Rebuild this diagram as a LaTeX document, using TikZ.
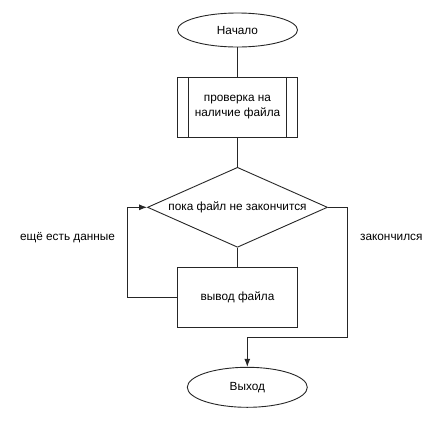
\documentclass[tikz,border=0pt]{standalone}
\usepackage{fontspec}
\setmainfont{Liberation Sans}
\usepackage{tikz}
\usetikzlibrary{positioning,arrows.meta,calc,shapes.geometric}
\tikzset{
  flowline/.style={line width=0.9pt, draw=black!85},
  flowterm/.style={ellipse, flowline, minimum width=120pt, minimum height=34pt,
    inner sep=0pt, font=\fontsize{11.8}{14}\selectfont},
  flowbox/.style={rectangle, flowline, minimum width=120pt, minimum height=60pt,
    align=center, inner sep=2pt, font=\fontsize{11.8}{15}\selectfont},
  flowcond/.style={diamond, flowline, aspect=2.25, minimum width=180pt,
    minimum height=80pt, inner sep=0pt, font=\fontsize{11.8}{14}\selectfont},
  flowarrow/.style={flowline, -{Latex[length=8pt,width=6pt]}},
  flowlabel/.style={font=\fontsize{11.8}{14}\selectfont},
}

\begin{document}
\begin{tikzpicture}[x=1pt, y=-1pt]
  \useasboundingbox (0,0) rectangle (448,421);
  % блоки
  \node[flowterm] (start) at (237.5,30) {Начало};
  \node[flowbox] (check) at (237.5,107.3) {проверка на\\наличие файла};
  \draw[flowline] ([xshift=11.6pt]check.north west) -- ([xshift=11.6pt]check.south west);
  \draw[flowline] ([xshift=-11.6pt]check.north east) -- ([xshift=-11.6pt]check.south east);
  \node[flowcond] (loop) at (237.5,207.3) {пока файл не закончится};
  \node[flowbox] (out) at (237.5,297.3) {вывод файла};
  \node[flowterm, minimum height=40pt] (stop) at (247.3,387.3) {Выход};
  % связи
  \draw[flowline] (start) -- (check);
  \draw[flowline] (check) -- (loop);
  \draw[flowline] (loop) -- (out);
  \coordinate (backl) at (127.7,297.3);
  \draw[flowarrow] (out.west) -- (backl) |- (loop.west);
  \coordinate (exitr) at (347.7,337.3);
  \draw[flowarrow] (loop.east) -| (exitr) -| (stop.north);
  % подписи
  \node[flowlabel] (more) at (67.5,237.3) {ещё есть данные};
  \node[flowlabel] (done) at (391.3,237.3) {закончился};
\end{tikzpicture}
\end{document}
